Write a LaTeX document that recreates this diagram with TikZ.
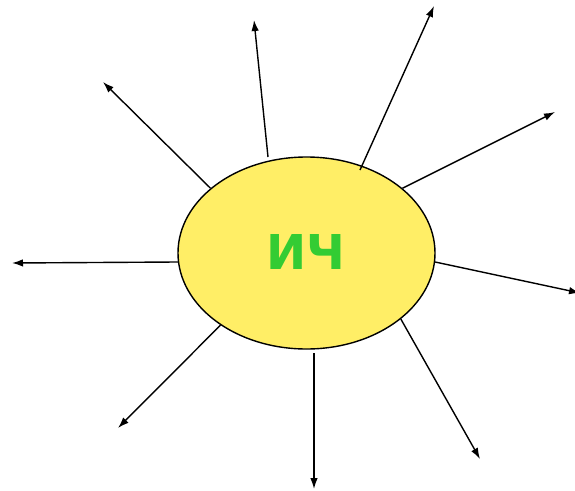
\documentclass[tikz,border=0pt]{standalone}
\usepackage{fontspec}
\setmainfont{DejaVu Sans}
\usetikzlibrary{shapes.geometric,arrows.meta}
\definecolor{sunfill}{HTML}{FFEE66}
\definecolor{sungreen}{HTML}{33CC33}
\tikzset{
  sun/.style={ellipse,draw=black,line width=1.4pt,fill=sunfill,minimum width=257pt,minimum height=192pt,inner sep=0pt},
  ray/.style={line width=1.4pt,-{Latex[length=11pt,width=7.5pt]}},
}
\begin{document}
\begin{tikzpicture}[x=1pt,y=-1pt]
\useasboundingbox (0,0) rectangle (575,490);
\node[sun] (c) at (306.5,253) {};
\node[text=sungreen,font=\fontsize{48}{48}\selectfont\bfseries] (t) at (306,252) {ИЧ};
\coordinate (e1) at (254,20);
\coordinate (e2) at (434,6);
\coordinate (e3) at (555,112);
\coordinate (e4) at (580,293);
\coordinate (e5) at (480,459);
\coordinate (e6) at (314,489);
\coordinate (e7) at (118,428);
\coordinate (e8) at (12,263);
\coordinate (e9) at (103,82);
\coordinate (s1) at (268,157);
\coordinate (s2) at (360,170);
\coordinate (s6) at (314,353);
\draw[ray] (s1) -- (e1);
\draw[ray] (s2) -- (e2);
\draw[ray] (c.34) -- (e3);
\draw[ray] (c.-4.4) -- (e4);
\draw[ray] (c.-35.3) -- (e5);
\draw[ray] (s6) -- (e6);
\draw[ray] (c.220.2) -- (e7);
\draw[ray] (c.184.5) -- (e8);
\draw[ray] (c.146) -- (e9);
\end{tikzpicture}
\end{document}
